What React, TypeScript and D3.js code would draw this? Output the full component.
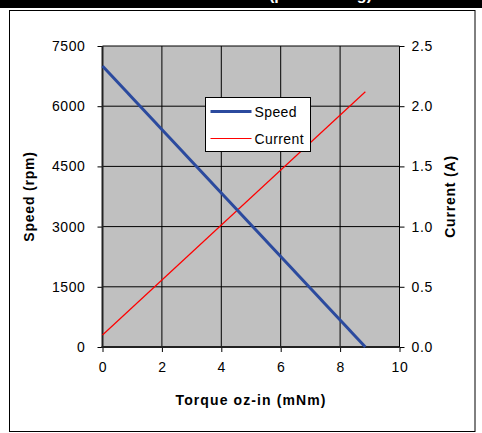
import React, { useRef, useEffect } from 'react';
import * as d3 from 'd3';

// Values
const torque = [0, 8.85];
const speed = [7000, 0];
const current = [0.1, 2.12];
const xTicks = [0, 2, 4, 6, 8, 10];
const speedTicks = [0, 1500, 3000, 4500, 6000, 7500];
const currentTicks = [0, 0.5, 1.0, 1.5, 2.0, 2.5];
const seriesNames = ['Speed', 'Current'];

const App = () => {
  const ref = useRef<SVGSVGElement>(null);

  useEffect(() => {
    const W = 482, H = 433;
    const left = 102.5, right = 399.5, top = 46, bottom = 347;
    const font = '"Liberation Sans", Arial, sans-serif';

    const svg = d3.select(ref.current);
    svg.selectAll('*').remove();
    svg.attr('width', W).attr('height', H);

    svg.append('rect').attr('width', W).attr('height', H).attr('fill', '#fff');

    // title bar, cut off at the top edge as in the source image
    svg.append('rect').attr('x', 0).attr('y', 0).attr('width', W).attr('height', 8).attr('fill', '#000');
    svg.append('text')
      .attr('x', 240).attr('y', 0)
      .attr('text-anchor', 'middle')
      .attr('font-family', font).attr('font-weight', 'bold').attr('font-size', 16)
      .attr('fill', '#fff')
      .text('Performance Curves (per Winding)');

    // outer frame
    svg.append('rect')
      .attr('x', 9.5).attr('y', 10.5).attr('width', 465.5).attr('height', 421)
      .attr('fill', 'none').attr('stroke', '#000').attr('stroke-width', 1);

    const x = d3.scaleLinear().domain([0, 10]).range([left, right]);
    const yL = d3.scaleLinear().domain([0, 7500]).range([bottom, top]);
    const yR = d3.scaleLinear().domain([0, 2.5]).range([bottom, top]);

    // plot background
    svg.append('rect')
      .attr('x', left).attr('y', top).attr('width', right - left).attr('height', bottom - top)
      .attr('fill', '#c0c0c0');

    // grid
    const g = svg.append('g');
    g.selectAll('.vg').data(xTicks.slice(1, -1)).enter().append('line')
      .attr('x1', d => x(d)).attr('x2', d => x(d)).attr('y1', top).attr('y2', bottom)
      .attr('stroke', '#000').attr('stroke-width', 1);
    g.selectAll('.hg').data(speedTicks.slice(1)).enter().append('line')
      .attr('x1', left).attr('x2', right).attr('y1', d => yL(d)).attr('y2', d => yL(d))
      .attr('stroke', '#000').attr('stroke-width', 1);

    // axes
    const axisStyle = (sel: any) => {
      sel.select('.domain').remove();
      sel.selectAll('.tick line').attr('stroke', '#000');
      sel.selectAll('.tick text')
        .attr('font-family', font).attr('font-size', 14).attr('letter-spacing', 0.6).attr('fill', '#000');
    };

    svg.append('g').attr('transform', `translate(${left},0)`)
      .call(d3.axisLeft(yL).tickValues(speedTicks).tickSize(5).tickPadding(12).tickFormat(d3.format('d')))
      .call(axisStyle);
    svg.append('g').attr('transform', `translate(${right},0)`)
      .call(d3.axisRight(yR).tickValues(currentTicks).tickSize(5).tickPadding(7).tickFormat(d3.format('.1f')))
      .call(axisStyle);
    svg.append('g').attr('transform', `translate(0,${bottom})`)
      .call(d3.axisBottom(x).tickValues(xTicks).tickSize(5).tickPadding(10).tickFormat(d3.format('d')))
      .call(axisStyle);

    svg.append('line').attr('x1', left).attr('x2', left).attr('y1', top).attr('y2', bottom + 1)
      .attr('stroke', '#222').attr('stroke-width', 2);
    svg.append('line').attr('x1', left - 1).attr('x2', right).attr('y1', bottom).attr('y2', bottom)
      .attr('stroke', '#222').attr('stroke-width', 2);
    svg.append('line').attr('x1', right).attr('x2', right).attr('y1', top).attr('y2', bottom)
      .attr('stroke', '#000').attr('stroke-width', 1);

    // series
    const speedLine = d3.line<number>().x((d, i) => x(torque[i])).y(d => yL(d));
    const currentLine = d3.line<number>().x((d, i) => x(torque[i])).y(d => yR(d));
    svg.append('path').attr('d', currentLine(current))
      .attr('fill', 'none').attr('stroke', '#ff0000').attr('stroke-width', 1.2);
    svg.append('path').attr('d', speedLine(speed))
      .attr('fill', 'none').attr('stroke', '#2b4a9e').attr('stroke-width', 3);

    // axis titles
    const titleFont = (t: any) => t
      .attr('text-anchor', 'middle')
      .attr('font-family', font).attr('font-weight', 'bold').attr('font-size', 14)
      .attr('letter-spacing', 0.8);
    svg.append('text')
      .attr('transform', `translate(34,${(top + bottom) / 2}) rotate(-90)`)
      .call(titleFont)
      .text('Speed (rpm)');
    svg.append('text')
      .attr('transform', `translate(455,${(top + bottom) / 2}) rotate(-90)`)
      .call(titleFont)
      .text('Current (A)');
    svg.append('text')
      .attr('x', (left + right) / 2).attr('y', 405)
      .call(titleFont)
      .attr('letter-spacing', 1.1)
      .text('Torque oz-in (mNm)');

    // legend
    const lg = svg.append('g').attr('transform', 'translate(205.5,97.5)');
    lg.append('rect').attr('width', 105).attr('height', 54)
      .attr('fill', '#fff').attr('stroke', '#000').attr('stroke-width', 1);
    const colors = ['#2b4a9e', '#ff0000'];
    const widths = [3, 1.2];
    seriesNames.forEach((name, i) => {
      const yy = 14 + i * 27;
      lg.append('line').attr('x1', 5).attr('x2', 46).attr('y1', yy).attr('y2', yy)
        .attr('stroke', colors[i]).attr('stroke-width', widths[i]);
      lg.append('text').attr('x', 49).attr('y', yy + 5)
        .attr('font-family', font).attr('font-size', 14).attr('letter-spacing', 0.4)
        .text(name);
    });
  }, []);

  return <svg ref={ref} style={{ position: 'absolute', left: 0, top: 0 }}></svg>;
};

export default App;
